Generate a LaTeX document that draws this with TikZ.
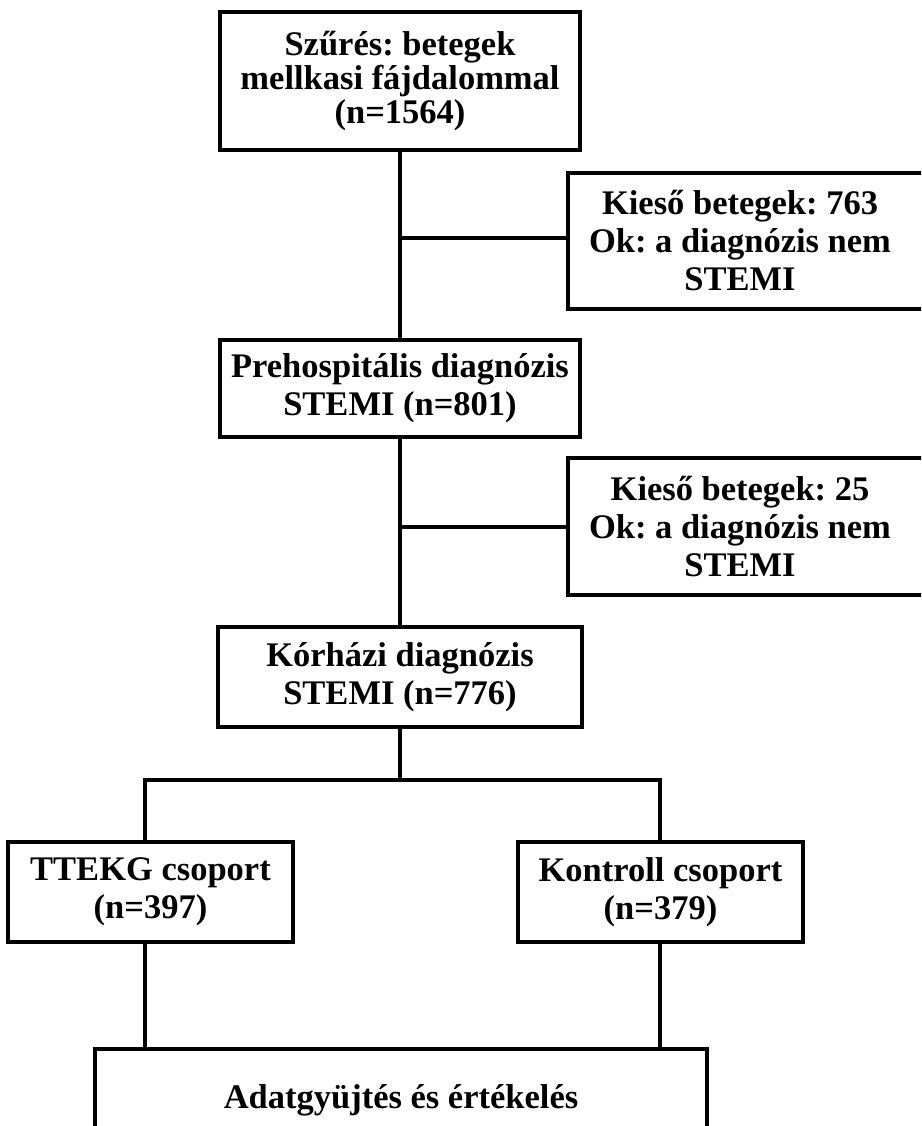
\documentclass[tikz,border=0pt]{standalone}
\usepackage{fontspec}
\setmainfont{Liberation Serif}
\frenchspacing
\begin{document}
\begin{tikzpicture}[x=1pt,y=-1pt,
  conn/.style={line width=3.5pt},
  box/.style={draw, line width=3.5pt, inner sep=0pt, align=center,
    font=\bfseries\fontsize{34.5}{38}\selectfont},
  sidebox/.style={inner sep=0pt, align=center, minimum width=344pt, minimum height=136pt,
    font=\bfseries\fontsize{34.5}{38}\selectfont}]
\useasboundingbox (0,0) rectangle (921,1126);
\clip (0,0) rectangle (921,1126);
\fill[white] (0,0) rectangle (921,1126);

\node[box, minimum width=360pt, minimum height=138pt,
  font=\bfseries\fontsize{34.5}{34}\selectfont] (b1) at (400,81)
  {Szűrés: betegek\\mellkasi fájdalommal\\(n=1564)};
\node[sidebox] (s1) at (740,241) {Kieső betegek: 763\\Ok: a diagnózis nem\\STEMI};
\node[box, minimum width=360pt, minimum height=97pt] (b2) at (400,388.5)
  {Prehospitális diagnózis\\STEMI (n=801)};
\node[sidebox, minimum height=137pt] (s2) at (740,526.5) {Kieső betegek: 25\\Ok: a diagnózis nem\\STEMI};
\node[box, minimum width=364pt, minimum height=100pt] (b3) at (400,677)
  {Kórházi diagnózis\\STEMI (n=776)};
\node[box, minimum width=285pt, minimum height=100pt] (b4) at (150.5,892)
  {TTEKG csoport\\(n=397)};
\node[box, minimum width=285pt, minimum height=100pt] (b5) at (660.5,892)
  {Kontroll csoport\\(n=379)};
\node[box, minimum width=612pt, minimum height=102pt] (b6) at (401,1100)
  {Adatgyüjtés és értékelés};

% open-ended side boxes (cut by the right margin)
\draw[conn] ([xshift=30pt]s1.north east) -- (s1.north west) -- (s1.south west) -- ([xshift=30pt]s1.south east);
\draw[conn] ([xshift=30pt]s2.north east) -- (s2.north west) -- (s2.south west) -- ([xshift=30pt]s2.south east);

\coordinate (j1) at (400,238);
\coordinate (j2) at (400,527);
\coordinate (j3) at (400,780);
\coordinate (jl) at (145,780);
\coordinate (jr) at (660,780);

\draw[conn] (b1.south) -- (b2.north);
\draw[conn] (j1) -- (j1 -| s1.west);
\draw[conn] (b2.south) -- (b3.north);
\draw[conn] (j2) -- (j2 -| s2.west);
\draw[conn] (b3.south) -- (j3);
\draw[conn] (jl |- b4.north) -- (jl) -- (jr) -- (jr |- b5.north);
\draw[conn] (jl |- b4.south) -- (jl |- b6.north);
\draw[conn] (jr |- b5.south) -- (jr |- b6.north);
\end{tikzpicture}
\end{document}
